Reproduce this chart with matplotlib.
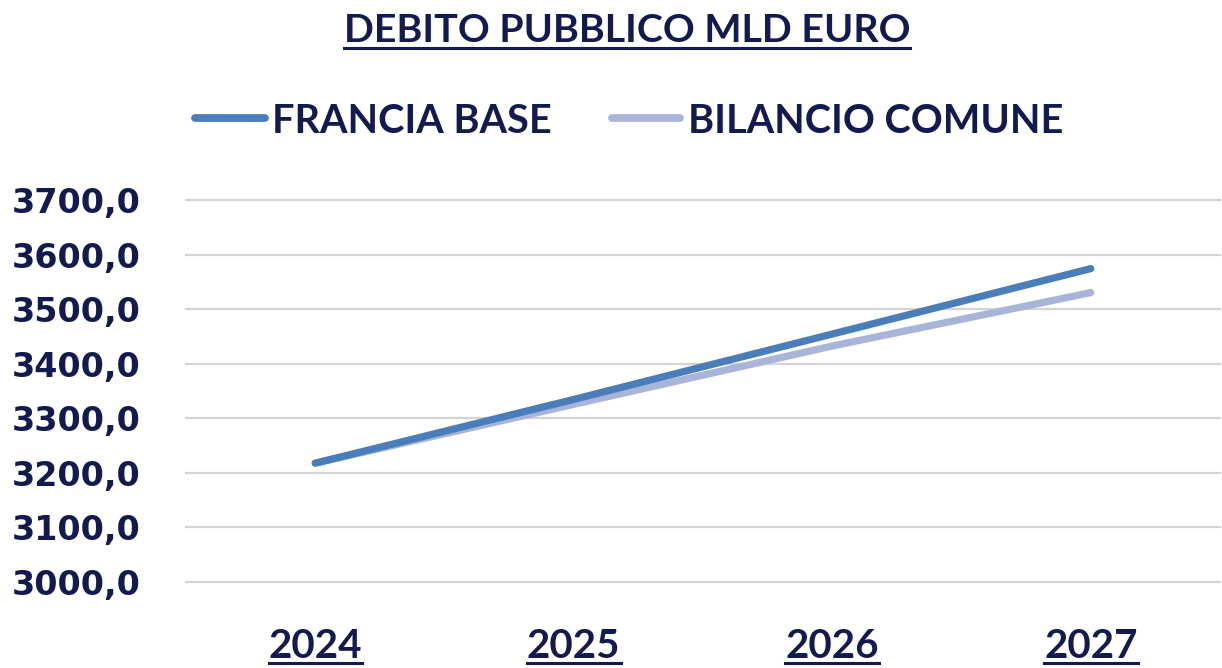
import matplotlib
matplotlib.use("Agg")
import matplotlib.pyplot as plt
from matplotlib.lines import Line2D

# Public debt projections, billions of euro
years = ["2024", "2025", "2026", "2027"]
francia_base = [3218.0, 3335.0, 3455.0, 3575.0]
bilancio_comune = [3218.0, 3326.0, 3433.0, 3531.0]
series_names = ["FRANCIA BASE", "BILANCIO COMUNE"]
y_ticks = [3000, 3100, 3200, 3300, 3400, 3500, 3600, 3700]

NAVY = "#131A4F"
C_BASE = "#4A7EBB"
C_COMUNE = "#A9B5D8"
HEAD_FONT = ["Lato", "DejaVu Sans"]

W, H = 1222, 668
fig = plt.figure(figsize=(W / 100, H / 100), dpi=100)
fig.patch.set_facecolor("white")
ax = fig.add_axes([186 / W, 1 - 582 / H, 1034 / W, (582 - 200.5) / H])

x = list(range(len(years)))
ax.plot(x, francia_base, color=C_BASE, lw=5.2, solid_capstyle="round", zorder=3)
ax.plot(x, bilancio_comune, color=C_COMUNE, lw=5.2, solid_capstyle="round", zorder=2)

ax.set_xlim(-0.5, 3.5)
ax.set_ylim(y_ticks[0], y_ticks[-1])
ax.set_yticks(y_ticks)
ax.set_yticklabels([f"{v:.1f}".replace(".", ",") for v in y_ticks],
                   fontsize=24, fontweight="bold", color=NAVY,
                   family="DejaVu Sans")
ax.set_xticks(x)
ax.set_xticklabels(years, fontsize=29, fontweight="bold", color=NAVY,
                   family=HEAD_FONT)
ax.tick_params(axis="y", length=0, pad=33)
ax.tick_params(axis="x", length=0, pad=33)
ax.grid(axis="y", color="#D4D4D4", lw=1.6)
for gl in ax.get_ygridlines():
    gl.set_clip_on(False)
ax.set_axisbelow(True)
for s in ax.spines.values():
    s.set_visible(False)

# Title
title = fig.text(627 / W, 1 - 42 / H, "DEBITO PUBBLICO MLD EURO", ha="center",
                 va="baseline", fontsize=28.4, fontweight="bold", color=NAVY,
                 family=HEAD_FONT)

# Legend drawn in figure space
leg_y = 1 - 118 / H
legend_items = [
    (195, 265, 272, series_names[0], C_BASE),
    (612, 680, 688, series_names[1], C_COMUNE),
]
for x0, x1, tx, name, col in legend_items:
    fig.add_artist(Line2D([x0 / W, x1 / W], [leg_y, leg_y], color=col, lw=5.6,
                          solid_capstyle="round", transform=fig.transFigure))
    fig.text(tx / W, leg_y, name, ha="left", va="center_baseline", fontsize=28.5,
             fontweight="bold", color=NAVY, family=HEAD_FONT)

# Underlines beneath the title and the year labels
fig.canvas.draw()
renderer = fig.canvas.get_renderer()
inv = fig.transFigure.inverted()


def underline(txt, gap=5, lw=2.2):
    bb = txt.get_window_extent(renderer)
    # text boxes extend below the baseline by the descent of "lp"
    _, _, descent = renderer.get_text_width_height_descent(
        "lp", txt.get_fontproperties(), ismath=False)
    base = bb.y0 + descent
    (x0, yy), (x1, _) = inv.transform([(bb.x0, base - gap), (bb.x1, base)])
    fig.add_artist(Line2D([x0, x1], [yy, yy], color=NAVY, lw=lw,
                          transform=fig.transFigure))


underline(title, gap=6)
for lbl in ax.get_xticklabels():
    underline(lbl, gap=5)

fig.savefig("out.png", dpi=100, facecolor="white")
